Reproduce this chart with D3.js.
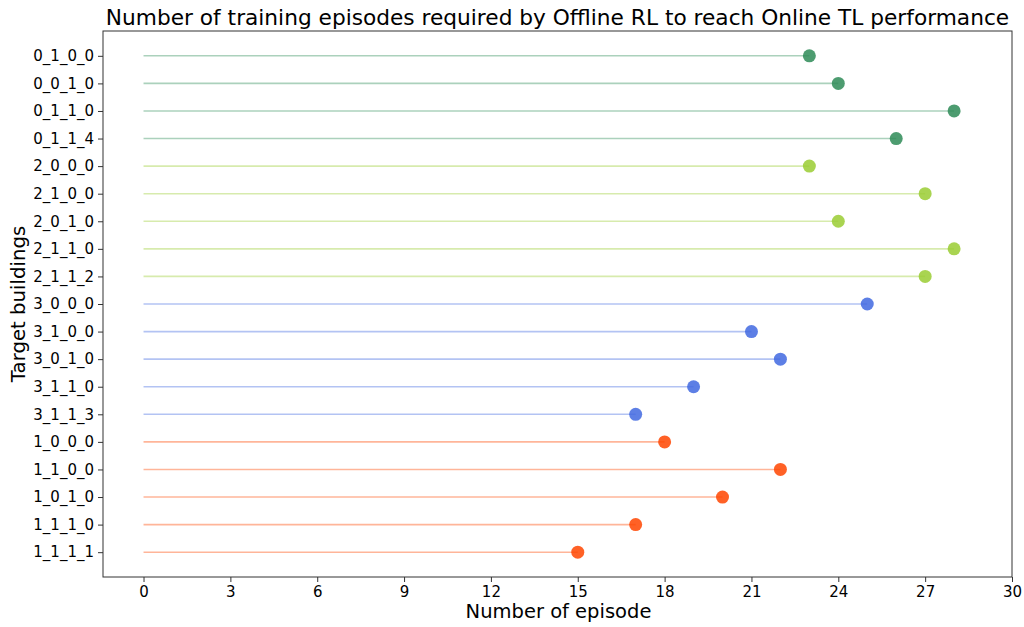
<!DOCTYPE html>
<html>
<head>
<meta charset="utf-8">
<script src="https://cdn.jsdelivr.net/npm/d3@7"></script>
<style>
  body { margin: 0; background: #fff; }
  text { font-family: "DejaVu Sans", sans-serif; fill: #000; }
</style>
</head>
<body>
<div id="chart"></div>
<script>
// buildings, top to bottom
const buildings = ["0_1_0_0", "0_0_1_0", "0_1_1_0", "0_1_1_4",
    "2_0_0_0", "2_1_0_0", "2_0_1_0", "2_1_1_0", "2_1_1_2",
    "3_0_0_0", "3_1_0_0", "3_0_1_0", "3_1_1_0", "3_1_1_3",
    "1_0_0_0", "1_1_0_0", "1_0_1_0", "1_1_1_0", "1_1_1_1"];
const episodes = [23, 24, 28, 26, 23, 27, 24, 28, 27, 25, 21, 22, 19, 17, 18, 22, 20, 17, 15];
const groups = ["0", "0", "0", "0", "2", "2", "2", "2", "2",
    "3", "3", "3", "3", "3", "1", "1", "1", "1", "1"];
const groupColors = { "0": "seagreen", "2": "yellowgreen", "3": "royalblue", "1": "orangered" };
const xTicks = [0, 3, 6, 9, 12, 15, 18, 21, 24, 27, 30];

const width = 1024, height = 627;
const margin = { left: 103, right: 12, top: 31, bottom: 50 };

const svg = d3.select("#chart").append("svg")
    .attr("width", width)
    .attr("height", height);

const x = d3.scaleLinear()
    .domain([-1.4, 30])
    .range([margin.left, width - margin.right]);

// matplotlib-like 5% padding around the categories
const y = d3.scaleLinear()
    .domain([-0.9, buildings.length - 1 + 0.9])
    .range([margin.top, height - margin.bottom]);

const data = buildings.map((b, i) => ({ name: b, val: episodes[i], col: groupColors[groups[i]], i: i }));

// stems
svg.selectAll(".stem")
    .data(data)
    .join("line")
    .attr("x1", x(0))
    .attr("x2", d => x(d.val))
    .attr("y1", d => y(d.i))
    .attr("y2", d => y(d.i))
    .attr("stroke", d => d.col)
    .attr("stroke-opacity", 0.4)
    .attr("stroke-width", 1.6);

// heads
svg.selectAll(".dot")
    .data(data)
    .join("circle")
    .attr("cx", d => x(d.val))
    .attr("cy", d => y(d.i))
    .attr("r", 6.5)
    .attr("fill", d => d.col)
    .attr("fill-opacity", 0.85);

// frame
svg.append("rect")
    .attr("x", margin.left)
    .attr("y", margin.top)
    .attr("width", width - margin.right - margin.left)
    .attr("height", height - margin.bottom - margin.top)
    .attr("fill", "none")
    .attr("stroke", "#333")
    .attr("stroke-width", 1);

// x axis
const xAxis = svg.append("g")
    .attr("transform", `translate(0,${height - margin.bottom})`)
    .call(d3.axisBottom(x).tickValues(xTicks).tickSize(5).tickPadding(4));
xAxis.select(".domain").remove();
xAxis.selectAll("text").style("font-size", "15px").style("font-family", "DejaVu Sans");
xAxis.selectAll("line").attr("stroke", "#333");

// y axis
const yAxis = svg.append("g")
    .attr("transform", `translate(${margin.left},0)`)
    .call(d3.axisLeft(y).tickValues(d3.range(buildings.length)).tickFormat(i => buildings[i]).tickSize(5).tickPadding(4));
yAxis.select(".domain").remove();
yAxis.selectAll("text").style("font-size", "15px").style("font-family", "DejaVu Sans");
yAxis.selectAll("line").attr("stroke", "#333");

// labels
svg.append("text")
    .attr("x", (margin.left + width - margin.right) / 2)
    .attr("y", 25)
    .attr("text-anchor", "middle")
    .style("font-size", "21.7px")
    .text("Number of training episodes required by Offline RL to reach Online TL performance");

svg.append("text")
    .attr("x", (margin.left + width - margin.right) / 2 + 1)
    .attr("y", 618)
    .attr("text-anchor", "middle")
    .style("font-size", "19.5px")
    .text("Number of episode");

svg.append("text")
    .attr("transform", `translate(25,${(margin.top + height - margin.bottom) / 2}) rotate(-90)`)
    .attr("text-anchor", "middle")
    .style("font-size", "19.7px")
    .text("Target buildings");
</script>
</body>
</html>
